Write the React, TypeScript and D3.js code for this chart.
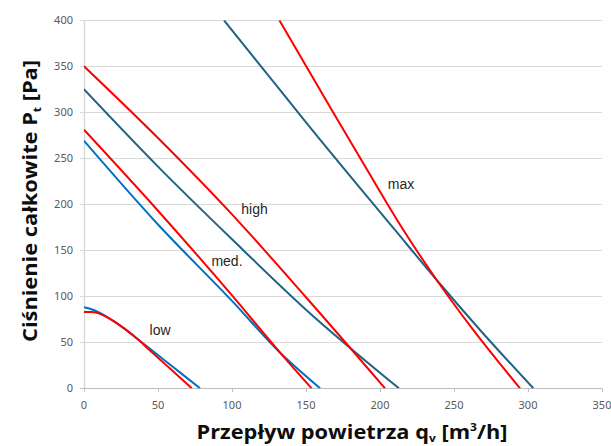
import React from "react";
import * as d3 from "d3";

type Pt = [number, number];

const xTicks = [0, 50, 100, 150, 200, 250, 300, 350];
const yTicks = [0, 50, 100, 150, 200, 250, 300, 350, 400];

const lowBlue: Pt[] = [[0, 88], [5, 86], [10.8, 82], [20, 73], [28, 64], [35.6, 54.3], [45, 42.5], [55, 29.6], [65, 17], [78.4, 0]];
const lowRed: Pt[] = [[0, 83], [5, 83], [8, 82.5], [12, 80], [20, 73], [28, 64], [35.6, 54.3], [45, 40.5], [55, 26], [65, 11.5], [72.8, 0]];
const medBlue: Pt[] = [[0, 269], [50, 178], [100, 95], [132.9, 38], [159.5, 0]];
const medRed: Pt[] = [[0, 281], [50, 193], [100, 101], [132.9, 38], [153.8, 0]];
const highTeal: Pt[] = [[0, 325], [50, 241], [100, 162], [150, 85.5], [212.8, 0]];
const highRed: Pt[] = [[0, 350], [50, 272], [100, 189], [150, 99], [203.4, 0]];
const maxTeal: Pt[] = [[94.6, 400], [118.9, 351.4], [150, 289], [193.2, 204.7], [210.1, 172.1], [238.3, 117.7], [267.6, 63.4], [303.6, 0]];
const maxRed: Pt[] = [[132, 400], [167.4, 302.5], [190, 241], [215.8, 172.1], [238.3, 117.7], [263, 63.4], [294.6, 0]];

const labelNames = ["low", "med.", "high", "max"];
const labelX = [51.4, 96.6, 115.2, 214.2];
const labelY = [58, 133, 189.5, 217];

const W = 611;
const H = 446;
const M = { left: 84, right: 602, top: 20.3, bottom: 388.3 };

const RED = "#FF0000";
const BLUE = "#0070C0";
const TEAL = "#1F6385";

export default function App() {
  const x = d3.scaleLinear().domain([0, 350]).range([M.left, M.right]);
  const y = d3.scaleLinear().domain([0, 400]).range([M.bottom, M.top]);
  const line = d3
    .line<Pt>()
    .x((d) => x(d[0]))
    .y((d) => y(d[1]))
    .curve(d3.curveMonotoneX);

  const series: { data: Pt[]; color: string }[] = [
    { data: lowBlue, color: BLUE },
    { data: medBlue, color: BLUE },
    { data: highTeal, color: TEAL },
    { data: maxTeal, color: TEAL },
    { data: lowRed, color: RED },
    { data: medRed, color: RED },
    { data: highRed, color: RED },
    { data: maxRed, color: RED },
  ];

  const tickFont = "'Noto Sans', 'Open Sans', sans-serif";
  const titleFont = "'Open Sans', 'Noto Sans', sans-serif";

  return (
    <svg
      width={W}
      height={H}
      style={{ position: "absolute", left: 0, top: 0, background: "#fff" }}
    >
      <defs>
        <clipPath id="plotclip">
          <rect x={M.left} y={M.top} width={M.right - M.left} height={M.bottom - M.top} />
        </clipPath>
      </defs>
      {yTicks.map((t) =>
        t === 0 ? null : (
          <line
            key={"g" + t}
            x1={M.left - 4}
            x2={M.right}
            y1={Math.round(y(t)) + 0.5}
            y2={Math.round(y(t)) + 0.5}
            stroke="#D9D9D9"
            strokeWidth={1}
          />
        )
      )}
      <line x1={M.left + 0.5} x2={M.left + 0.5} y1={M.top} y2={M.bottom} stroke="#D9D9D9" strokeWidth={1.5} />
      <line x1={M.left - 4} x2={M.right} y1={Math.round(y(0)) + 0.5} y2={Math.round(y(0)) + 0.5} stroke="#BFBFBF" strokeWidth={1} />
      {xTicks.map((t) => (
        <line
          key={"xt" + t}
          x1={Math.round(x(t)) + 0.5}
          x2={Math.round(x(t)) + 0.5}
          y1={y(0)}
          y2={y(0) + 4}
          stroke="#BFBFBF"
        />
      ))}
      {yTicks.map((t) => (
        <text
          key={"yl" + t}
          x={73}
          y={y(t) + 4}
          textAnchor="end"
          fontFamily={tickFont}
          fontSize={11}
          fill="#595959"
        >
          {t}
        </text>
      ))}
      {xTicks.map((t) => (
        <text
          key={"xl" + t}
          x={x(t)}
          y={409}
          textAnchor="middle"
          fontFamily={tickFont}
          fontSize={11}
          fill="#595959"
        >
          {t}
        </text>
      ))}
      <g clipPath="url(#plotclip)">
        {series.map((s, i) => (
          <path key={"s" + i} d={line(s.data) || ""} fill="none" stroke={s.color} strokeWidth={2} />
        ))}
      </g>
      {labelNames.map((n, i) => (
        <text
          key={"lab" + i}
          x={x(labelX[i])}
          y={y(labelY[i])}
          textAnchor="middle"
          fontFamily="'Liberation Sans', Arial, sans-serif"
          fontSize={14}
          fill="#262626"
        >
          {n}
        </text>
      ))}
      <text
        x={352}
        y={439}
        textAnchor="middle"
        fontFamily={titleFont}
        fontWeight="bold"
        fontSize={20}
        fill="#0d0d0d"
        textLength={311}
        lengthAdjust="spacingAndGlyphs"
      >
        Przepływ powietrza q
        <tspan fontSize={11} dy={3}>v</tspan>
        <tspan dy={-3}> [m</tspan>
        <tspan fontSize={11} dy={-8}>3</tspan>
        <tspan dy={8}>/h]</tspan>
      </text>
      <text
        transform={`translate(37,201) rotate(-90)`}
        textAnchor="middle"
        fontFamily={titleFont}
        fontWeight="bold"
        fontSize={20}
        fill="#0d0d0d"
        textLength={282}
        lengthAdjust="spacingAndGlyphs"
      >
        Ciśnienie całkowite P
        <tspan fontSize={11} dy={4}>t</tspan>
        <tspan dy={-4}> [Pa]</tspan>
      </text>
    </svg>
  );
}
